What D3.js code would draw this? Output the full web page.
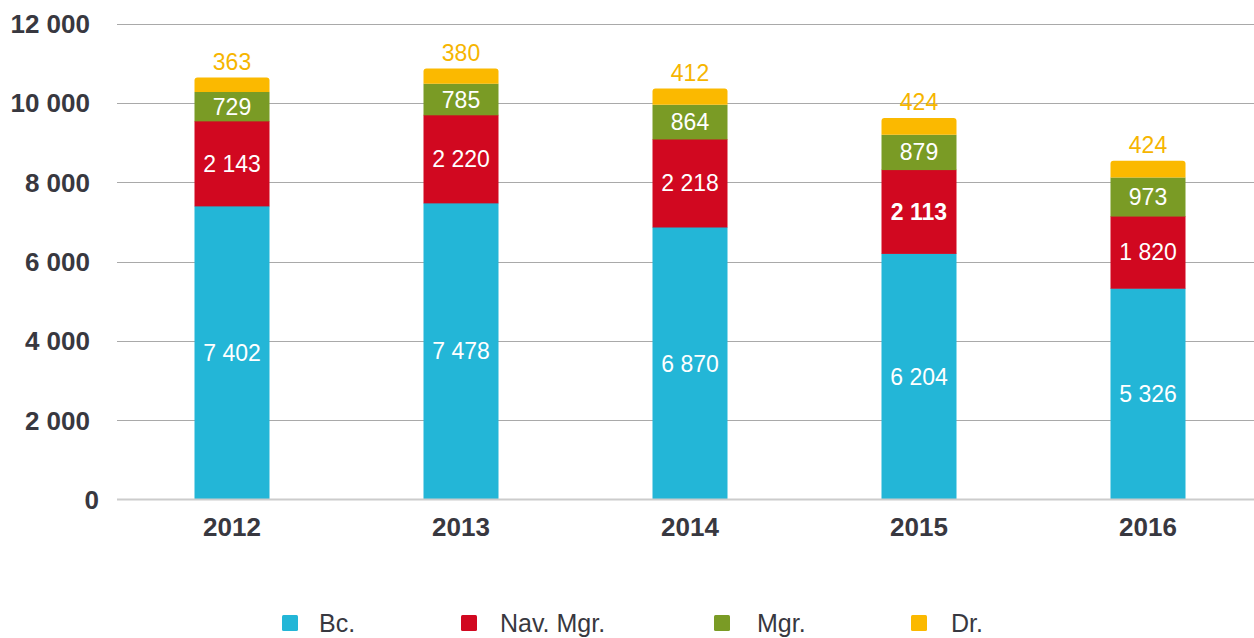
<!DOCTYPE html>
<html><head><meta charset="utf-8">
<script src="https://cdn.jsdelivr.net/npm/d3@7"></script>
<style>
body{margin:0;background:#fff;}
svg{display:block;font-family:"Liberation Sans",Arial,Helvetica,sans-serif;}
</style></head><body>
<svg id="chart" width="1254" height="638"></svg>
<script>
const years = ["2012","2013","2014","2015","2016"];
const seriesNames = ["Bc.","Nav. Mgr.","Mgr.","Dr."];
const bc = [7402,7478,6870,6204,5326];
const navMgr = [2143,2220,2218,2113,1820];
const mgr = [729,785,864,879,973];
const dr = [363,380,412,424,424];
const yTicks = [0,2000,4000,6000,8000,10000,12000];
const colors = ["#23b6d7","#d10820","#7a9b25","#fbb900"];

const svg = d3.select("#chart");
const fmt = v => d3.format(",")(v).replace(/,/g," ");

const x = d3.scaleBand().domain(years).range([117.5,1262.5]).paddingInner(0.6725).paddingOuter(0.33625);
const y = d3.scaleLinear().domain([0,12000]).range([499.5,23.5]);

// grid
svg.append("g").selectAll("line").data(yTicks.filter(d=>d>0)).join("line")
  .attr("x1",117).attr("x2",1254)
  .attr("y1",d=>Math.round(y(d))+0.5).attr("y2",d=>Math.round(y(d))+0.5)
  .attr("stroke","#a9a9a9").attr("stroke-width",1);

// y labels
svg.append("g").selectAll("text").data(yTicks).join("text")
  .attr("x",d=>d===0?99:90).attr("y",d=>y(d)).attr("dy","0.36em")
  .attr("text-anchor","end").attr("font-size",26).attr("font-weight","bold")
  .attr("fill","#383840").text(d=>fmt(d));

const data = years.map((yr,i)=>({year:yr,"Bc.":bc[i],"Nav. Mgr.":navMgr[i],"Mgr.":mgr[i],"Dr.":dr[i]}));
const stack = d3.stack().keys(seriesNames)(data);

const bw = x.bandwidth();
stack.forEach((layer,li)=>{
  const g = svg.append("g");
  layer.forEach((d,i)=>{
    const x0 = x(years[i]), y0 = y(d[0]), y1 = y(d[1]);
    if(li===seriesNames.length-1){
      const r=3;
      const p = d3.path();
      p.moveTo(x0,y0); p.lineTo(x0,y1+r); p.quadraticCurveTo(x0,y1,x0+r,y1);
      p.lineTo(x0+bw-r,y1); p.quadraticCurveTo(x0+bw,y1,x0+bw,y1+r);
      p.lineTo(x0+bw,y0); p.closePath();
      g.append("path").attr("d",p.toString()).attr("fill",colors[li]);
      g.append("text").attr("x",x0+bw/2).attr("y",y1-16).attr("dy","0.36em")
        .attr("text-anchor","middle").attr("font-size",23).attr("fill","#f6b500")
        .text(fmt(d[1]-d[0]));
    } else {
      g.append("rect").attr("x",x0).attr("y",y1).attr("width",bw).attr("height",y0-y1+0.5).attr("fill",colors[li]);
      g.append("text").attr("x",x0+bw/2).attr("y",(y0+y1)/2).attr("dy","0.36em")
        .attr("text-anchor","middle").attr("font-size",23).attr("fill","#fff")
        .attr("font-weight",(li===1&&years[i]==="2015")?"bold":"normal")
        .text(fmt(d[1]-d[0]));
    }
  });
});

// baseline
svg.append("line").attr("x1",117).attr("x2",1254).attr("y1",y(0)).attr("y2",y(0))
  .attr("stroke","#cccccc").attr("stroke-width",2);

// x labels
svg.append("g").selectAll("text").data(years).join("text")
  .attr("x",d=>x(d)+bw/2).attr("y",527).attr("dy","0.36em")
  .attr("text-anchor","middle").attr("font-size",26).attr("font-weight","bold")
  .attr("fill","#383840").text(d=>d);

// legend
const legendX = [282,461,714,911];
const textX = [319,500,757,951];
const lg = svg.append("g");
seriesNames.forEach((n,i)=>{
  lg.append("rect").attr("x",legendX[i]).attr("y",615).attr("width",16).attr("height",16).attr("rx",1.5).attr("fill",colors[i]);
  lg.append("text").attr("x",textX[i]).attr("y",623).attr("dy","0.36em").attr("font-size",25)
    .attr("fill","#383840").text(n);
});
</script>
</body></html>
